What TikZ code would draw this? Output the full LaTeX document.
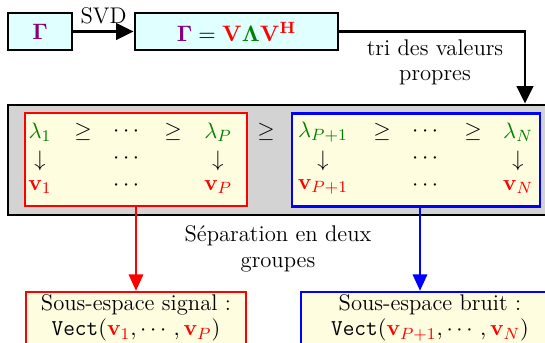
\documentclass[tikz,border=0pt]{standalone}
\usepackage[no-math]{fontspec}
\usepackage{amsmath}
\usetikzlibrary{arrows.meta}
\definecolor{gpurple}{RGB}{128,0,128}
\definecolor{ggreen}{RGB}{0,128,0}
\definecolor{lcyan}{RGB}{224,255,255}
\definecolor{lyellow}{RGB}{255,253,224}
\definecolor{lgray}{RGB}{211,211,211}
\tikzset{
  every node/.style={font=\fontsize{11.1}{12.4}\selectfont},
  topbox/.style={draw=black, line width=1.4pt, fill=lcyan, inner sep=0pt, minimum height=18.1pt},
  graybox/.style={draw=black, line width=1.4pt, fill=lgray, inner sep=0pt},
  redbox/.style={draw=red, line width=1.15pt, fill=lyellow, inner sep=0pt},
  bluebox/.style={draw=blue, line width=1.15pt, fill=lyellow, inner sep=0pt},
  blk/.style={line width=1.4pt, -{Triangle[length=8.5pt,width=8pt]}},
  redarr/.style={draw=red, line width=1.15pt, -{Triangle[length=8pt,width=7pt]}},
  bluearr/.style={draw=blue, line width=1.15pt, -{Triangle[length=8pt,width=7pt]}},
  txt/.style={inner sep=0pt, align=center}
}
\newcommand{\myvr}[1]{\textcolor{red}{\mathbf{v}_{#1}}}
\newcommand{\mylg}[1]{\textcolor{ggreen}{\lambda_{#1}}}
\begin{document}
\begin{tikzpicture}[x=0.49pt,y=-0.49pt]
\useasboundingbox (0,0) rectangle (545,343);
% top boxes
\node[topbox, minimum width=31.4pt] (g) at (40,31.5) {$\textcolor{gpurple}{\mathbf{\Gamma}}$};
\node[topbox, minimum width=99.5pt] (eq) at (236.5,31.5)
  {$\textcolor{gpurple}{\mathbf{\Gamma}} = \textcolor{red}{\mathbf{V}}\textcolor{ggreen}{\boldsymbol{\Lambda}}\textcolor{red}{\mathbf{V}^{\mathbf{H}}}$};
\draw[blk] (g.east) -- (eq.west) node[midway, above=-0.5pt] (svd) {SVD};
% gray box
\node[graybox, minimum width=264.6pt, minimum height=53.9pt] (gr) at (278,160) {};
\coordinate (tr) at (525,31.5);
\draw[blk] (eq.east) -- (tr) -- (gr.north -| tr);
\node[txt] (tri) at (435,62) {tri des valeurs\\propres};
% red and blue boxes
\node[redbox, minimum width=108.8pt, minimum height=45.6pt] (rb) at (136,159.5) {};
\node[bluebox, minimum width=121.5pt, minimum height=45.6pt] (bb) at (416,160) {};
% contents red
\node (l1) at (40,132) {$\mylg{1}$};
\node (ge1) at (83,132) {$\geq$};
\node (d1) at (128,132) {$\cdots$};
\node (ge2) at (173,132) {$\geq$};
\node (lP) at (218,132) {$\mylg{P}$};
\node (a1) at (40,161) {$\downarrow$};
\node (d2) at (128,159) {$\cdots$};
\node (aP) at (218,161) {$\downarrow$};
\node (v1) at (40,187) {$\myvr{1}$};
\node (d3) at (128,186) {$\cdots$};
\node (vP) at (218,187) {$\myvr{P}$};
% middle
\node (gem) at (266,132) {$\geq$};
% contents blue
\node (lP1) at (323,132) {$\mylg{P+1}$};
\node (ge3) at (382,132) {$\geq$};
\node (d4) at (427,132) {$\cdots$};
\node (ge4) at (473,132) {$\geq$};
\node (lN) at (518,132) {$\mylg{N}$};
\node (a2) at (323,161) {$\downarrow$};
\node (d5) at (427,159) {$\cdots$};
\node (aN) at (518,161) {$\downarrow$};
\node (vP1) at (323,187) {$\myvr{P+1}$};
\node (d6) at (427,186) {$\cdots$};
\node (vN) at (518,187) {$\myvr{N}$};
% separation
\node[txt] (sep) at (278,249) {Séparation en deux\\groupes};
% bottom boxes
\node[redbox, minimum width=107.8pt, minimum height=25.5pt, align=center] (sb) at (136,318)
  {Sous-espace signal :\\\texttt{Vect}$(\myvr{1},\cdots,\myvr{P})$};
\node[bluebox, minimum width=126.4pt, minimum height=25.5pt, align=center] (nb) at (430,318)
  {Sous-espace bruit :\\\texttt{Vect}$(\myvr{P+1},\cdots,\myvr{N})$};
\draw[redarr] (rb.south) -- (sb.north);
\coordinate (xb) at (420,0);
\draw[bluearr] (bb.south -| xb) -- (nb.north -| xb);
\end{tikzpicture}
\end{document}
